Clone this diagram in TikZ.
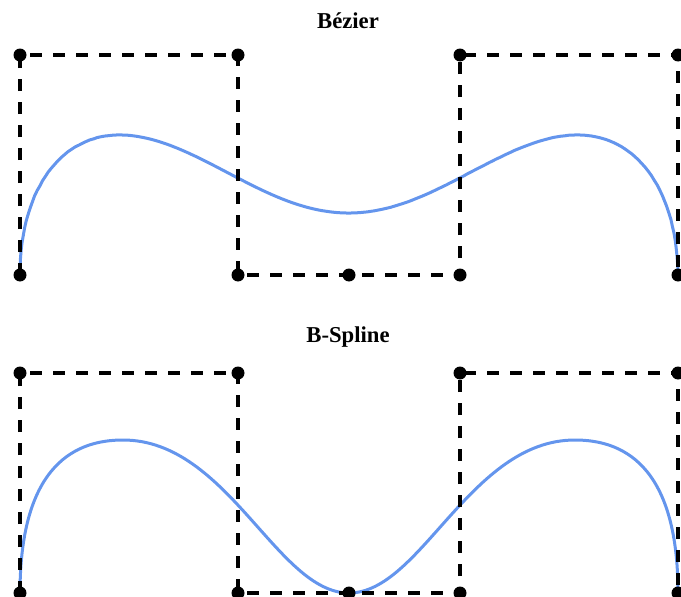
\documentclass[tikz,border=0pt]{standalone}
\usepackage{fontspec}
\setmainfont{Liberation Serif}
\definecolor{curveblue}{RGB}{100,149,237}
\begin{document}
\begin{tikzpicture}[x=1pt,y=-1pt,
  ctrl/.style={circle,fill=black,inner sep=0pt,minimum size=13pt},
  poly/.style={line width=3.5pt,dash pattern=on 12pt off 11pt},
  crv/.style={line width=3pt,draw=curveblue},
  ttl/.style={font=\fontsize{22.7}{26}\selectfont\bfseries,anchor=base,inner sep=0pt},
  declare function={bA(\t)=(1-\t)^8; bB(\t)=8*\t*(1-\t)^7; bC(\t)=28*\t^2*(1-\t)^6;
    bD(\t)=56*\t^3*(1-\t)^5; bE(\t)=70*\t^4*(1-\t)^4; bF(\t)=56*\t^5*(1-\t)^3;
    bG(\t)=28*\t^6*(1-\t)^2; bH(\t)=8*\t^7*(1-\t); bI(\t)=\t^8;
    bzx(\t)=0.20*(bA(\t)+bB(\t))+2.38*(bC(\t)+bD(\t))+3.49*bE(\t)+4.60*(bF(\t)+bG(\t))+6.78*(bH(\t)+bI(\t));
    bzy(\t)=2.75*(bA(\t)+bD(\t)+bE(\t)+bF(\t)+bI(\t))+0.55*(bB(\t)+bC(\t)+bG(\t)+bH(\t));}]
\clip (0,0) rectangle (681,597);
% control points, Bezier on top, B-spline below
\foreach \n/\x/\y in {0/20/275,1/20/55,2/238/55,3/238/275,4/349/275,5/460/275,6/460/55,7/678/55,8/678/275}{
  \coordinate (bz\n) at (\x,\y); \coordinate (bs\n) at (\x,\y+318);}
\coordinate (pkl) at (123,440); \coordinate (pkr) at (575,440);
\node[ttl] (tz) at (348,28) {Bézier};
\node[ttl] (ts) at (348,342) {B-Spline};
% curves
\draw[crv] plot[domain=0:1,samples=200,variable=\t] ({100*bzx(\t)},{100*bzy(\t)});
\draw[crv] (bs0) .. controls (20,462) and (78,440) .. (pkl) .. controls (228,440) and (277,593) .. (bs4)
  .. controls (421,593) and (470,440) .. (pkr) .. controls (620,440) and (678,462) .. (bs8);
% control polygons
\draw[poly] (bz0) \foreach \n in {1,...,8}{ -- (bz\n)};
\draw[poly] (bs0) \foreach \n in {1,...,8}{ -- (bs\n)};
\foreach \n in {0,...,8}{ \node[ctrl] (dz\n) at (bz\n) {}; \node[ctrl] (ds\n) at (bs\n) {}; }
\end{tikzpicture}
\end{document}
